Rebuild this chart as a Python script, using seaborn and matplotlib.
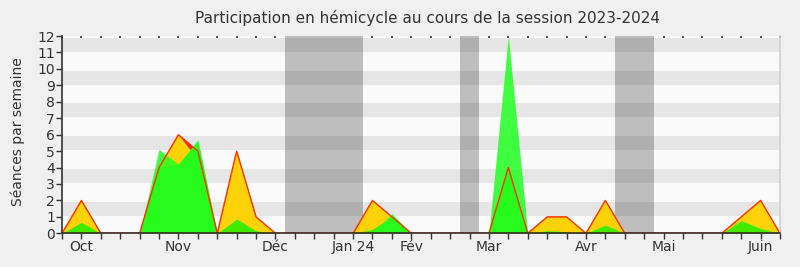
import numpy as np
import pandas as pd
import matplotlib
matplotlib.use("Agg")
import matplotlib.pyplot as plt
import seaborn as sns

# ---- data (weekly, 38 weeks) ----
weeks = list(range(38))
presences = [0, 2, 0, 0, 0, 4, 6, 5, 0, 5, 1, 0, 0, 0, 0, 0, 2, 1, 0, 0, 0, 0, 0, 4, 0,
             1, 1, 0, 2, 0, 0, 0, 0, 0, 0, 1, 2, 0]
participations = [0, 2, 0, 0, 0, 4, 6, 4.5, 0, 5, 1, 0, 0, 0, 0, 0, 2, 1, 0, 0, 0, 0, 0, 4, 0,
                  1, 1, 0, 2, 0, 0, 0, 0, 0, 0, 1, 2, 0]
interventions = [0, 0.67, 0, 0, 0, 4, 4.2, 5.6, 0, 0.87, 0.16, 0, 0, 0, 0, 0, 0.25, 1.0, 0, 0, 0, 0, 0, 4, 0,
                 0.16, 0.1, 0, 0.5, 0, 0, 0, 0, 0, 0, 0.77, 0.3, 0]
mediane = [0, 0, 0, 0, 0, 5.1, 4.2, 5.7, 0, 0, 0, 0, 0, 0, 0, 0, 0, 1.2, 0, 0, 0, 0, 0, 12, 0,
           0, 0, 0, 0, 0, 0, 0, 0, 0, 0, 0, 0, 0]
vacances = [(11.5, 15.5), (20.5, 21.5), (28.5, 30.5)]
month_pos = [1, 6, 11, 15, 18, 22, 27, 31, 36]
month_labels = ["Oct", "Nov", "Déc", "Jan 24", "Fév", "Mar", "Avr", "Mai", "Juin"]
y_ticks = list(range(0, 13))

df = pd.DataFrame({"semaine": weeks, "presences": presences,
                   "participations": participations,
                   "interventions": interventions, "mediane": mediane})

sns.set_style("white")
plt.rcParams["font.family"] = ["DejaVu Sans"]

fig = plt.figure(figsize=(8, 2.67), dpi=100, facecolor="#f0f0f0")
ax = fig.add_axes([62/800, 1-233.3/267, (780-62)/800, (233.3-36)/267])
ax.set_facecolor("#fafafa")

for a, b in vacances:
    ax.axvspan(a, b, color="#bebebe", lw=0, zorder=0.5)
for n in range(1, 12, 2):
    ax.axhspan(n + 0.05, n + 0.9, color="black", alpha=0.08, lw=0, zorder=0.6)

ax.fill_between(df["semaine"], 0, df["presences"], color="#ff2020", lw=0, zorder=2)
ax.fill_between(df["semaine"], 0, df["participations"], color="#ffd20a", lw=0, zorder=3)
ax.fill_between(df["semaine"], 0, df["interventions"], color="#33ee00", alpha=0.92, lw=0, zorder=4)
ax.fill_between(df["semaine"], 0, df["mediane"], color="#22ff22", alpha=0.85, lw=0, zorder=5)
sns.lineplot(data=df, x="semaine", y="presences", color="#ff3300", lw=1.0, ax=ax, zorder=6)

ax.set_xlim(0, 37)
ax.set_ylim(0, 12)
ax.set_xlabel("")
ax.set_ylabel("")

ax.set_xticks(weeks)
ax.set_xticklabels([month_labels[month_pos.index(w)] if w in month_pos else "" for w in weeks],
                   fontsize=10, color="#333333")
ax.set_yticks(y_ticks)
ax.set_yticklabels([str(v) for v in y_ticks], fontsize=10, color="#333333")
ax.tick_params(axis="x", direction="out", length=4, width=1, color="#333333", pad=1, bottom=True)
ax.tick_params(axis="y", direction="out", length=4, width=1, color="#333333", pad=1, left=True)

sec = ax.secondary_xaxis("top")
sec.set_xticks(weeks)
sec.set_xticklabels([])
sec.tick_params(direction="in", length=1.5, width=1.2, color="#333333")
sec.spines["top"].set_visible(False)

ax.spines["top"].set_visible(False)
ax.spines["right"].set_color("#d0d0d0")
ax.spines["left"].set_color("#333333")
ax.spines["bottom"].set_color("#3a2a2a")
for s in ["left", "bottom", "right"]:
    ax.spines[s].set_linewidth(1.2)
    ax.spines[s].set_zorder(10)

fig.text(0.534, 1-18/267, "Participation en hémicycle au cours de la session 2023-2024",
         ha="center", va="center", fontsize=11, color="#333333")
fig.text(0.0225, 1-132/267, "Séances par semaine", rotation=90, ha="center", va="center",
         fontsize=10, color="#333333")

fig.savefig("out.png", dpi=100, facecolor=fig.get_facecolor())
